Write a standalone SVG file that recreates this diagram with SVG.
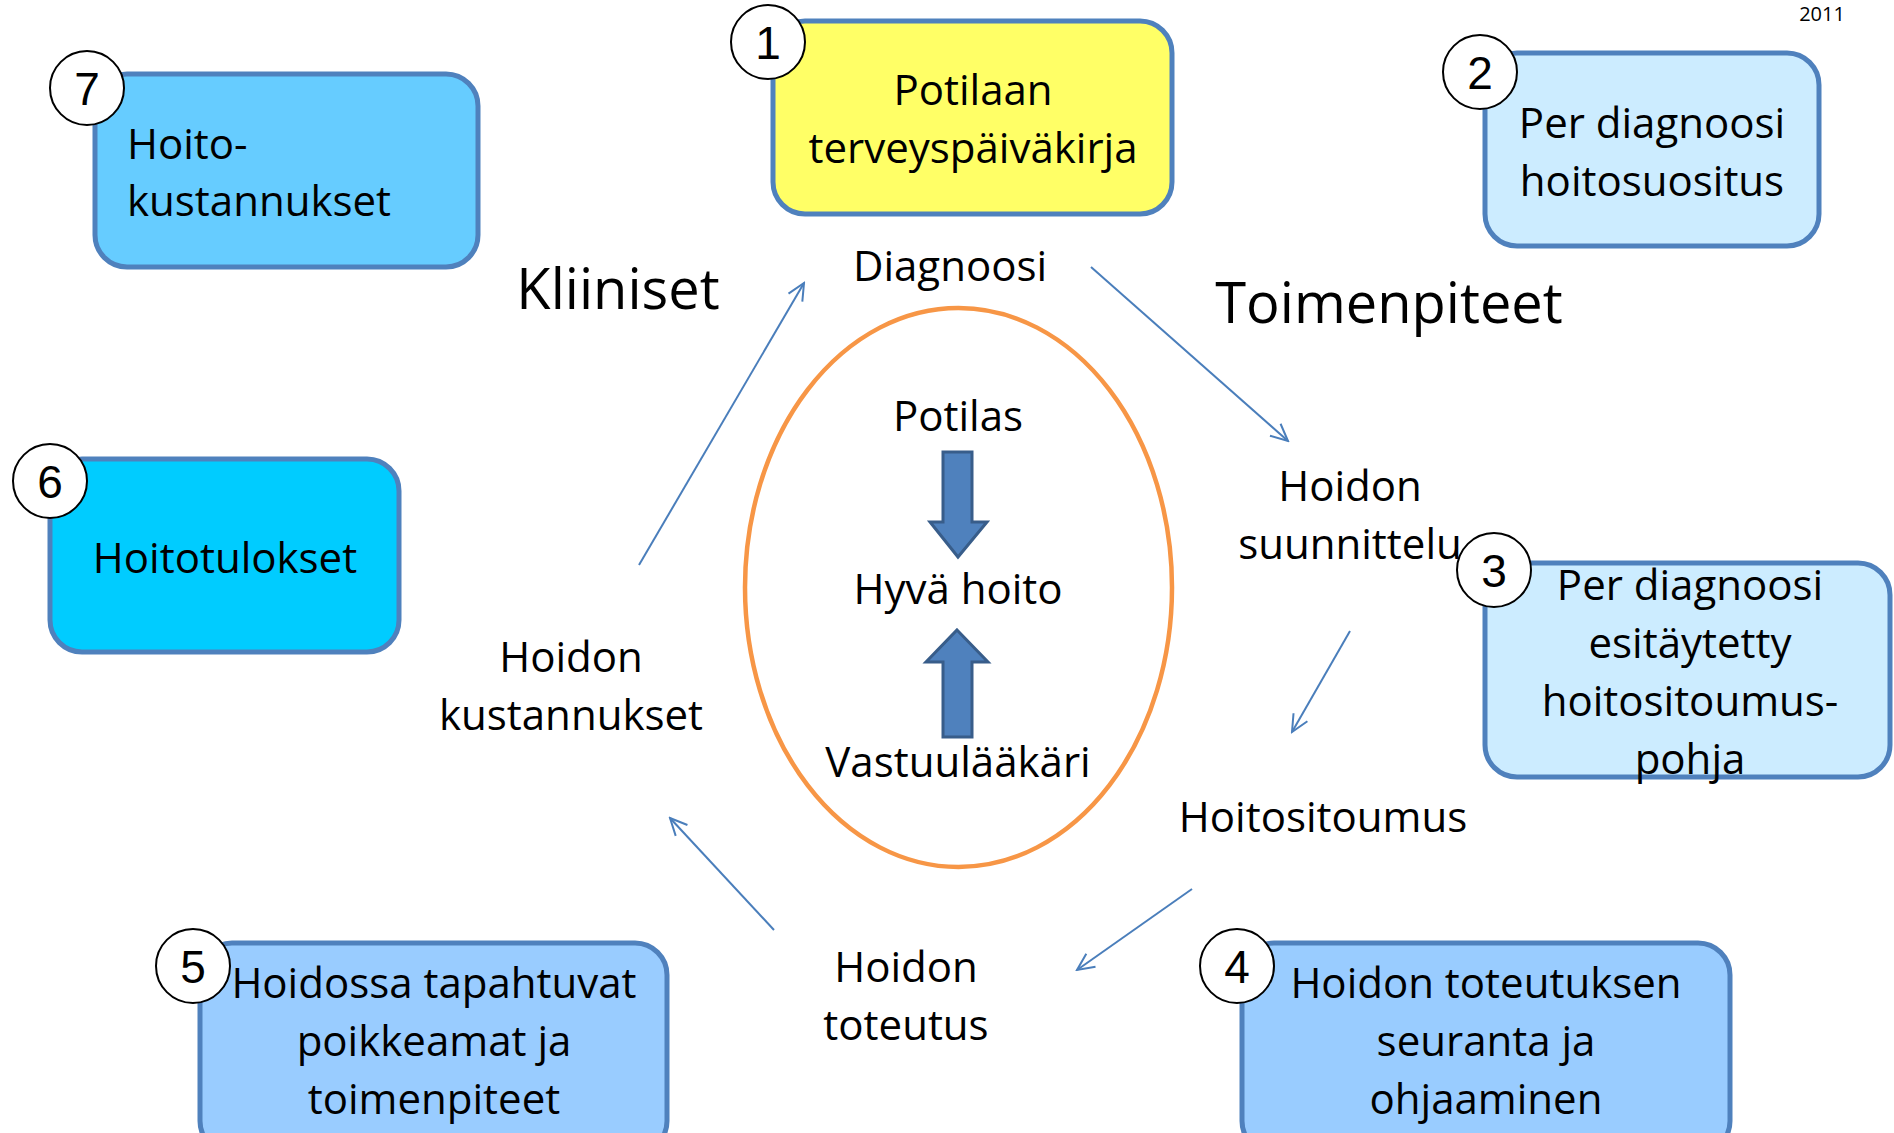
<svg xmlns="http://www.w3.org/2000/svg" width="1894" height="1133" viewBox="0 0 1894 1133">
<style>
.box{stroke:#4F81BD;stroke-width:5}
.t{font-family:"Open Sans","Noto Sans",sans-serif;font-size:42px;fill:#000;text-anchor:middle}
.tl{font-family:"Open Sans","Noto Sans",sans-serif;font-size:42px;fill:#000;text-anchor:start}
.big{font-family:"Open Sans","Noto Sans",sans-serif;font-size:56px;fill:#000;text-anchor:middle}
.num{fill:#fff;stroke:#000;stroke-width:2}
.nt{font-family:"Liberation Sans",Arial,sans-serif;font-size:46px;fill:#000;text-anchor:middle}
.con{stroke:#4A7EBB;stroke-width:2;fill:none;marker-end:url(#ah)}
.blk{fill:#4F81BD;stroke:#385D8A;stroke-width:3}
</style>
<defs>
<marker id="ah" markerUnits="userSpaceOnUse" markerWidth="22" markerHeight="22" viewBox="0 0 22 22" refX="20" refY="11" orient="auto">
<path d="M3,3 L20,11 L3,19" fill="none" stroke="#4A7EBB" stroke-width="2"/>
</marker>
</defs>
<rect width="1894" height="1133" fill="#fff"/>
<text x="1822" y="21" font-family="'Open Sans',sans-serif" font-size="20" text-anchor="middle">2011</text>

<g id="center">
<ellipse cx="958.5" cy="587.5" rx="213.5" ry="279.5" fill="none" stroke="#F79646" stroke-width="4.5"/>
<text class="t" x="958" y="431">Potilas</text>
<polygon class="blk" points="943,452 972,452 972,522 987,522 958,557 930,522 943,522"/>
<text class="t" x="958" y="604">Hyvä hoito</text>
<polygon class="blk" points="957,630 988,662 972,662 972,737 943,737 943,662 926,662"/>
<text class="t" x="958" y="777">Vastuulääkäri</text>
</g>

<g id="labels">
<text class="big" x="618" y="309">Kliiniset</text>
<text class="big" x="1389" y="323">Toimenpiteet</text>
<text class="t" x="950" y="281">Diagnoosi</text>
<text class="t" x="1350" y="501">Hoidon</text>
<text class="t" x="1350" y="559">suunnittelu</text>
<text class="t" x="1323" y="832">Hoitositoumus</text>
<text class="t" x="906" y="982">Hoidon</text>
<text class="t" x="906" y="1040">toteutus</text>
<text class="t" x="571" y="672">Hoidon</text>
<text class="t" x="571" y="730">kustannukset</text>
</g>

<g id="connectors">
<line class="con" x1="639" y1="565" x2="804" y2="283"/>
<line class="con" x1="1091" y1="267" x2="1288" y2="441"/>
<line class="con" x1="1350" y1="631" x2="1292" y2="732"/>
<line class="con" x1="1192" y1="889" x2="1077" y2="970"/>
<line class="con" x1="774" y1="930" x2="670" y2="818"/>
</g>

<g id="node1">
<rect class="box" x="773" y="21" width="399" height="193" rx="32" fill="#FFFF66"/>
<text class="t" x="973" y="105">Potilaan</text>
<text class="t" x="973" y="163">terveyspäiväkirja</text>
<circle class="num" cx="768" cy="42" r="37"/>
<text class="nt" x="768" y="59">1</text>
</g>

<g id="node2">
<rect class="box" x="1485" y="53" width="334" height="193" rx="32" fill="#CCECFF"/>
<text class="t" x="1652" y="138">Per diagnoosi</text>
<text class="t" x="1652" y="196">hoitosuositus</text>
<circle class="num" cx="1480" cy="72" r="37"/>
<text class="nt" x="1480" y="89">2</text>
</g>

<g id="node3">
<rect class="box" x="1485" y="563" width="405" height="214" rx="32" fill="#CCECFF"/>
<text class="t" x="1690" y="600">Per diagnoosi</text>
<text class="t" x="1690" y="658">esitäytetty</text>
<text class="t" x="1690" y="716">hoitositoumus-</text>
<text class="t" x="1690" y="774">pohja</text>
<circle class="num" cx="1494" cy="570" r="37"/>
<text class="nt" x="1494" y="587">3</text>
</g>

<g id="node4">
<rect class="box" x="1242" y="943" width="488" height="210" rx="32" fill="#99CCFF"/>
<text class="t" x="1486" y="998">Hoidon toteutuksen</text>
<text class="t" x="1486" y="1056">seuranta ja</text>
<text class="t" x="1486" y="1114">ohjaaminen</text>
<circle class="num" cx="1237" cy="966" r="37"/>
<text class="nt" x="1237" y="983">4</text>
</g>

<g id="node5">
<rect class="box" x="200" y="943" width="467" height="210" rx="32" fill="#99CCFF"/>
<text class="t" x="434" y="998">Hoidossa tapahtuvat</text>
<text class="t" x="434" y="1056">poikkeamat ja</text>
<text class="t" x="434" y="1114">toimenpiteet</text>
<circle class="num" cx="193" cy="966" r="37"/>
<text class="nt" x="193" y="983">5</text>
</g>

<g id="node6">
<rect class="box" x="50" y="459" width="349" height="193" rx="32" fill="#00CCFF"/>
<text class="t" x="225" y="573">Hoitotulokset</text>
<circle class="num" cx="50" cy="481" r="37"/>
<text class="nt" x="50" y="498">6</text>
</g>

<g id="node7">
<rect class="box" x="95" y="74" width="383" height="193" rx="32" fill="#66CCFF"/>
<text class="tl" x="127" y="159">Hoito-</text>
<text class="tl" x="127" y="216">kustannukset</text>
<circle class="num" cx="87" cy="88" r="37"/>
<text class="nt" x="87" y="105">7</text>
</g>
</svg>
